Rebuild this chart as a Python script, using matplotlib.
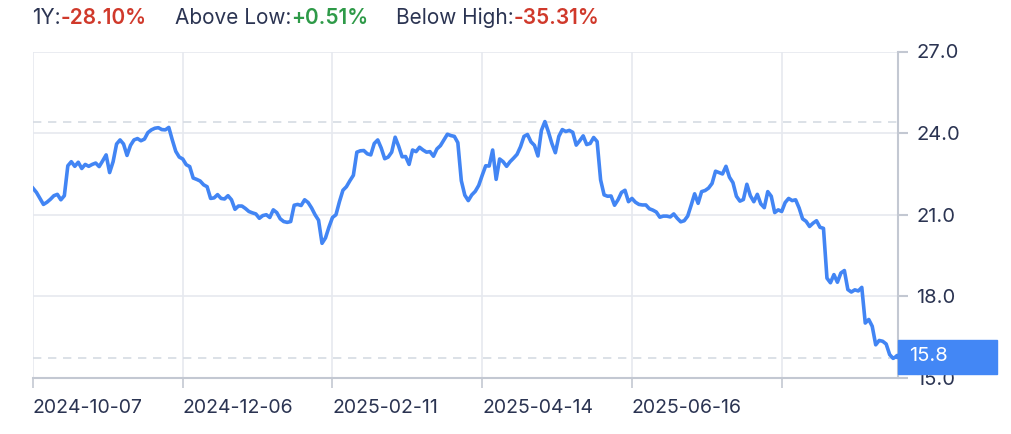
import numpy as np
import matplotlib.pyplot as plt
from matplotlib.patches import Rectangle

plt.rcParams['font.family'] = ['Inter', 'DejaVu Sans']

# closing prices, one per trading day
prices = [
    21.975, 21.82, 21.60, 21.38, 21.46, 21.57, 21.70, 21.75, 21.55, 21.70,
    22.80, 22.95, 22.78, 22.93, 22.70, 22.85, 22.78, 22.85, 22.90, 22.77,
    22.98, 23.20, 22.55, 22.95, 23.60, 23.75, 23.60, 23.18, 23.55, 23.75,
    23.80, 23.72, 23.78, 24.02, 24.12, 24.18, 24.20, 24.13, 24.12, 24.21,
    23.75, 23.33, 23.12, 23.05, 22.84, 22.77, 22.35, 22.30, 22.24, 22.10,
    22.03, 21.60, 21.62, 21.74, 21.60, 21.58, 21.70, 21.55, 21.20, 21.32,
    21.32, 21.23, 21.12, 21.07, 21.03, 20.87, 20.97, 21.00, 20.90, 21.18,
    21.08, 20.85, 20.75, 20.72, 20.75, 21.35, 21.38, 21.34, 21.55, 21.45,
    21.25, 21.00, 20.80, 19.95, 20.15, 20.55, 20.90, 21.00, 21.48, 21.90,
    22.03, 22.25, 22.45, 23.30, 23.35, 23.36, 23.24, 23.20, 23.62, 23.75,
    23.45, 23.06, 23.12, 23.30, 23.85, 23.52, 23.13, 23.14, 22.85, 23.38,
    23.32, 23.48, 23.38, 23.30, 23.32, 23.15, 23.42, 23.54, 23.75, 23.96,
    23.91, 23.88, 23.65, 22.25, 21.72, 21.52, 21.73, 21.86, 22.08, 22.45,
    22.80, 22.79, 23.38, 22.30, 23.05, 22.95, 22.78, 22.95, 23.08, 23.22,
    23.50, 23.88, 23.95, 23.68, 23.55, 23.16, 24.10, 24.425, 24.05, 23.62,
    23.28, 23.88, 24.13, 24.06, 24.10, 24.03, 23.56, 23.72, 23.90, 23.58,
    23.62, 23.84, 23.69, 22.28, 21.73, 21.68, 21.69, 21.35, 21.55, 21.82,
    21.90, 21.48, 21.60, 21.46, 21.38, 21.36, 21.36, 21.22, 21.17, 21.10,
    20.91, 20.95, 20.95, 20.92, 21.03, 20.87, 20.74, 20.78, 20.95, 21.35,
    21.77, 21.42, 21.85, 21.89, 21.98, 22.15, 22.60, 22.55, 22.50, 22.78,
    22.38, 22.18, 21.68, 21.50, 21.56, 22.12, 21.70, 21.48, 21.75, 21.40,
    21.26, 21.85, 21.68, 21.08, 21.18, 21.12, 21.45, 21.60, 21.52, 21.55,
    21.25, 20.85, 20.76, 20.57, 20.69, 20.78, 20.54, 20.50, 18.67, 18.50,
    18.80, 18.52, 18.86, 18.95, 18.25, 18.16, 18.24, 18.20, 18.33, 17.02,
    17.15, 16.90, 16.22, 16.38, 16.35, 16.25, 15.86, 15.72, 15.80,
]

tick_pos = [0, 43, 86, 129, 172, 215]
tick_labels = ['2024-10-07', '2024-12-06', '2025-02-11', '2025-04-14', '2025-06-16', '']
y_ticks = [15, 18, 21, 24, 27]

blue = '#4285f4'
txt = '#2b3452'
red = '#d0392b'
green = '#2e9a48'
grid_c = '#e6e9ef'
axis_c = '#c3c8d2'

x = np.arange(len(prices))
p = np.array(prices)
last, lo, hi, first = p[-1], p.min(), p.max(), p[0]

fig = plt.figure(figsize=(10.12, 4.34), dpi=100)
ax = fig.add_axes([33 / 1012, 56 / 434, 865 / 1012, 326.5 / 434])

ax.plot(x, p, color=blue, lw=2.6, solid_joinstyle='round', zorder=3)
ax.plot(x[-1], last, marker='o', ms=3, color=blue, zorder=4)
ax.axhline(hi, color='#d6dbe3', lw=1.2, ls=(0, (5, 4)), zorder=2)
ax.axhline(lo, color='#d6dbe3', lw=1.2, ls=(0, (5, 4)), zorder=2)

ax.set_xlim(0, len(prices) - 0.6)
ax.set_ylim(15, 27)
ax.set_xticks(tick_pos)
ax.set_xticklabels(tick_labels, ha='left')
ax.set_yticks(y_ticks)
ax.set_yticklabels([f'{v:.1f}' for v in y_ticks])
ax.yaxis.tick_right()
ax.grid(True, color=grid_c, lw=1.2, zorder=1)
for s in ['top', 'left']:
    ax.spines[s].set_visible(False)
for s in ['right', 'bottom']:
    ax.spines[s].set_color(axis_c)
    ax.spines[s].set_linewidth(1.5)
ax.tick_params(axis='y', length=7, width=1.5, color=axis_c, labelsize=14.5,
               labelcolor=txt, pad=6)
ax.tick_params(axis='x', length=7, width=1.2, color=axis_c, labelsize=14,
               labelcolor=txt, pad=8)

# last value box
ax.add_patch(Rectangle((1.0, (last - 15) / 12 - 0.055), 0.115, 0.105,
                       transform=ax.transAxes, color='#4387f5', clip_on=False, zorder=5))
ax.text(1.013, (last - 15) / 12, f'{last:.1f}', transform=ax.transAxes, color='white',
        fontsize=14.5, va='center', ha='left', zorder=6)

# header
parts = [
    ('1Y:', txt, 0), (f'{(last / first - 1) * 100:.2f}%', red, 28),
    ('Above Low:', txt, 0), (f'+{(last / lo - 1) * 100:.2f}%', green, 28),
    ('Below High:', txt, 0), (f'{(last / hi - 1) * 100:.2f}%', red, 0),
]
r = fig.canvas.get_renderer()
xpos = 32
for s, c, gap in parts:
    t = fig.text(xpos / 1012, 1 - 18 / 434, s, color=c, fontsize=15, va='center',
                 fontweight='semibold' if c != txt else 'normal')
    xpos += t.get_window_extent(renderer=r).width + gap

fig.savefig('out.png', dpi=100)
